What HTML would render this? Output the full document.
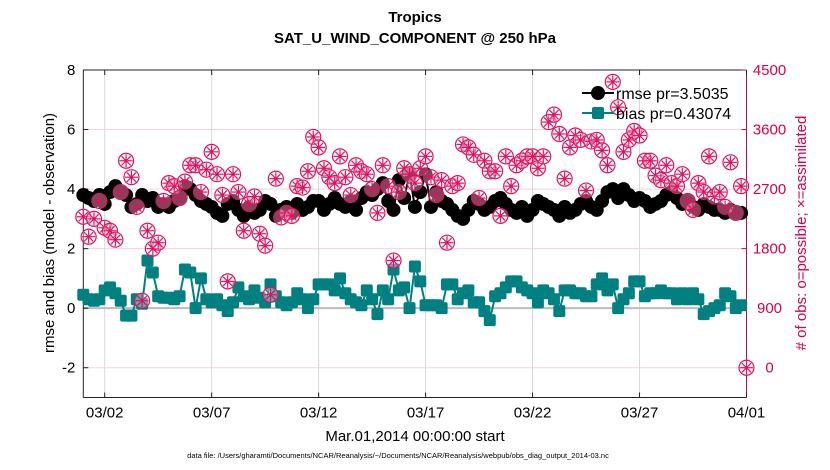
<!DOCTYPE html>
<html><head><meta charset="utf-8"><style>
body{margin:0;background:#fff;}
svg{display:block;font-family:"Liberation Sans",sans-serif;}
</style></head><body>
<svg id="chart" width="830" height="470" viewBox="0 0 830 470" xmlns="http://www.w3.org/2000/svg">
<text x="415" y="22" text-anchor="middle" font-size="15" font-weight="bold">Tropics</text>
<text x="415" y="43" text-anchor="middle" font-size="15" font-weight="bold">SAT_U_WIND_COMPONENT @ 250 hPa</text>
<g id="grid"></g><g id="axes"></g><g id="marks"></g>
<text x="415" y="441" text-anchor="middle" font-size="15">Mar.01,2014 00:00:00 start</text>
<text x="398" y="458" text-anchor="middle" font-size="7.5">data file: /Users/gharamti/Documents/NCAR/Reanalysis/~/Documents/NCAR/Reanalysis/webpub/obs_diag_output_2014-03.nc</text>
<text transform="translate(54,233) rotate(-90)" text-anchor="middle" font-size="15">rmse and bias (model - observation)</text>
<text transform="translate(806,233) rotate(-90)" text-anchor="middle" font-size="15" fill="#d6004f"># of obs: o=possible; ×=assimilated</text>
<g>
<line x1="582" y1="93" x2="614" y2="93" stroke="#000" stroke-width="2"/>
<circle cx="598" cy="93" r="7" fill="#000"/>
<text x="616" y="99" font-size="16">rmse pr=3.5035</text>
<line x1="582" y1="113" x2="614" y2="113" stroke="#008080" stroke-width="2"/>
<rect x="592" y="107" width="12" height="12" rx="2" fill="#008080"/>
<text x="616" y="119" font-size="16">bias pr=0.43074</text>
</g>
</svg>
<script>
const rmse=[3.8,3.7,3.6,3.8,3.5,3.9,4.1,3.9,3.8,3.4,3.5,3.8,3.6,3.7,3.4,3.5,3.4,3.6,3.7,4.1,4.0,3.8,3.6,3.5,3.4,3.2,3.1,3.5,3.6,3.3,3.1,3.4,3.2,3.3,3.6,3.5,3.1,3.3,3.4,3.2,3.5,3.3,3.4,3.6,3.6,3.3,3.5,3.7,3.5,3.4,3.6,3.3,3.7,3.9,3.8,4.0,4.2,3.6,3.3,4.3,3.7,4.5,3.4,3.9,4.5,3.4,3.9,3.6,3.5,3.3,3.1,3.0,3.3,3.6,3.5,3.3,3.4,3.6,3.7,3.5,3.3,3.2,3.4,3.1,3.3,3.6,3.5,3.4,3.3,3.1,3.4,3.2,3.3,3.5,3.6,3.4,3.3,3.6,3.9,4.0,3.7,4.0,3.8,3.6,3.7,3.6,3.4,3.5,3.6,3.8,3.9,3.7,3.5,3.6,3.4,3.3,3.5,3.4,3.3,3.3,3.2,3.3,3.2,3.2];
const bias=[0.45,0.3,0.25,0.3,0.6,0.7,0.5,0.25,-0.25,-0.25,0.3,0.15,1.6,1.2,0.4,0.35,0.35,0.3,0.4,1.3,1.2,0.0,1.0,0.3,0.2,0.3,0.1,-0.1,0.2,0.7,0.4,0.3,0.6,0.35,0.2,0.8,0.4,0.2,0.1,0.2,0.5,0.3,0.0,0.3,0.8,0.8,0.8,0.6,1.0,0.5,0.3,0.2,0.1,0.6,0.3,-0.2,0.6,0.3,1.3,0.6,0.7,0.0,1.4,0.9,0.1,0.1,0.1,0.0,0.8,0.8,0.3,0.5,0.6,0.2,0.2,-0.1,-0.4,0.4,0.5,0.7,0.9,0.9,0.7,0.6,0.5,0.2,0.6,0.5,0.3,-0.1,0.6,0.6,0.5,0.5,0.4,0.4,0.8,1.0,0.6,0.8,0.0,0.3,0.5,0.9,0.9,0.4,0.5,0.5,0.6,0.5,0.5,0.3,0.5,0.3,0.5,0.3,-0.2,-0.1,0.0,0.1,0.5,0.4,0.0,0.1];
const nobs=[2282,1980,2250,2520,2115,2070,1935,2655,3128,2880,2430,1013,2070,1800,1890,2520,2790,2745,2565,2813,3060,3060,2655,2993,3263,2925,2610,1305,2925,2655,2070,2475,2588,2025,1845,1103,2858,2273,2340,2295,2745,2723,2970,3488,3330,3015,2880,2790,3195,2880,2610,3060,2970,2925,2700,2340,3060,2745,1620,2655,3015,2925,2790,3015,3195,2880,2610,2835,1890,2745,2790,3375,3330,3218,2565,3128,2970,2970,2295,3195,2745,3060,3128,3195,3195,3015,3195,3713,3825,3533,2858,3330,3510,3443,2678,3420,3443,3285,3060,4320,3938,3263,3443,3578,3510,3128,3128,2903,2835,3060,2790,2745,2925,2520,2385,2790,2655,3195,2588,2655,2430,3105,2340,2745,0];
const leftTicks=[-2,0,2,4,6,8];
const rightTicks=[0,900,1800,2700,3600,4500];
const xTickLabels=["03/02","03/07","03/12","03/17","03/22","03/27","04/01"];
const xTickDays=[1,6,11,16,21,26,31];

const X0=83.3,X1=746.5,Y0=397.5,Y1=70;
const xs=d=>X0+(X1-X0)*d/31;
const yl=v=>Y0-(Y0-Y1)*(v+3)/11;
const yr=c=>Y0-(Y0-Y1)*(c+450)/4950;
const NS="http://www.w3.org/2000/svg";
function mk(p,t,a){const e=document.createElementNS(NS,t);for(const k in a)e.setAttribute(k,a[k]);p.appendChild(e);return e;}
const grid=document.getElementById('grid'),axes=document.getElementById('axes'),marks=document.getElementById('marks');
mk(grid,'rect',{x:X0,y:Y1,width:X1-X0,height:Y0-Y1,fill:'#fff'});
rightTicks.forEach(c=>{const g=mk(grid,'line',{x1:X0,x2:X1,y1:yr(c),y2:yr(c),stroke:'#f3d3de','stroke-width':1});

});
xTickDays.forEach(d=>{const g=mk(grid,'line',{x1:xs(d),x2:xs(d),y1:Y1,y2:Y0,stroke:'#d8d8d8','stroke-width':1});

});
const zl=mk(grid,'line',{x1:X0,x2:X1,y1:yl(0),y2:yl(0),stroke:'#bbb','stroke-width':2});


mk(axes,'line',{x1:X0,x2:X0,y1:Y1,y2:Y0,stroke:'#222'});
mk(axes,'line',{x1:X0,x2:X1,y1:Y0,y2:Y0,stroke:'#222'});
mk(axes,'line',{x1:X0,x2:X1,y1:Y1,y2:Y1,stroke:'#222'});
mk(axes,'line',{x1:X1,x2:X1,y1:Y1,y2:Y0,stroke:'#d6004f'});
leftTicks.forEach(v=>{mk(axes,'line',{x1:X0,x2:X0+5,y1:yl(v),y2:yl(v),stroke:'#222'});
const t=mk(axes,'text',{x:X0-8,y:yl(v)+5,'text-anchor':'end','font-size':15});t.textContent=v;

});
rightTicks.forEach(c=>{mk(axes,'line',{x1:X1-5,x2:X1,y1:yr(c),y2:yr(c),stroke:'#d6004f'});
const t=mk(axes,'text',{x:X1+23,y:yr(c)+5,'text-anchor':'middle','font-size':15,fill:'#d6004f'});t.textContent=c;

});
xTickDays.forEach((d,i)=>{mk(axes,'line',{x1:xs(d),x2:xs(d),y1:Y0,y2:Y0-5,stroke:'#222'});mk(axes,'line',{x1:xs(d),x2:xs(d),y1:Y1,y2:Y1+5,stroke:'#222'});
const t=mk(axes,'text',{x:xs(d),y:Y0+20,'text-anchor':'middle','font-size':15});t.textContent=xTickLabels[i];

});
const rl=mk(marks,'polyline',{points:rmse.map((v,i)=>xs(i/4)+','+yl(v)).join(' '),fill:'none',stroke:'#000','stroke-width':2});


rmse.forEach((v,i)=>{const c=mk(marks,'circle',{cx:xs(i/4),cy:yl(v),r:7,fill:'#000'});

});
const bl=mk(marks,'polyline',{points:bias.map((v,i)=>xs(i/4)+','+yl(v)).join(' '),fill:'none',stroke:'#008080','stroke-width':2});


bias.forEach((v,i)=>{const r=mk(marks,'rect',{x:xs(i/4)-6,y:yl(v)-6,width:12,height:12,rx:2,fill:'#008080'});

});
nobs.forEach((c,i)=>{const cx=xs(i/4),cy=yr(c);
const g=mk(marks,'g',{stroke:'#e0115f','stroke-width':1.2,fill:'none'});


mk(g,'circle',{cx:cx,cy:cy,r:7.5,fill:'rgba(255,255,255,0.35)'});
for(let k=0;k<4;k++){const a=k*Math.PI/4,dx=6.5*Math.cos(a),dy=6.5*Math.sin(a);
mk(g,'line',{x1:cx-dx,y1:cy-dy,x2:cx+dx,y2:cy+dy});}
});
</script>
</body></html>
